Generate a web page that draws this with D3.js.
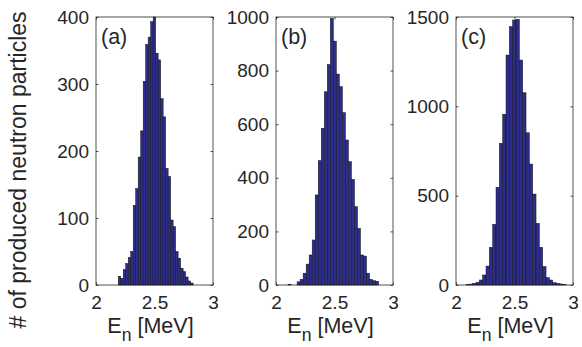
<!DOCTYPE html>
<html><head><meta charset="utf-8">
<script src="https://cdn.jsdelivr.net/npm/d3@7"></script>
<style>
body{margin:0;background:#fff}
text{font-family:"Liberation Sans",Arial,Helvetica,sans-serif;fill:#262626}
</style>
</head><body>
<svg id="chart" width="582" height="347"></svg>
<script>
// ---- data ----
const panelLabels = ["(a)", "(b)", "(c)"];
const binStart = [2.19, 2.103, 2.0855];
const binWidth = [0.02133, 0.0258, 0.0285];
const countsA = [13,10,23,32,41,50,119,144,191,230,304,359,370,393,400,346,336,278,251,174,162,97,87,50,40,25,20,12,6,3];
const countsB = [3,0,0,12,21,44,78,112,168,336,464,585,721,823,995,910,787,740,643,541,460,394,292,211,112,108,44,21,16,14];
const countsC = [3,5,9,15,28,56,106,211,339,547,793,955,1287,1446,1483,1487,1259,1076,852,677,509,345,211,103,41,28,13,9,6,3];
const yMax = [400, 1000, 1500];
const yTicksA = [0,100,200,300,400];
const yTicksB = [0,200,400,600,800,1000];
const yTicksC = [0,500,1000,1500];
const xTicks = [2, 2.5, 3];
const xTickLabels = ["2", "2.5", "3"];
const yLabel = "# of produced neutron particles";

const counts = [countsA, countsB, countsC];
const yTicks = [yTicksA, yTicksB, yTicksC];

// ---- layout ----
const svg = d3.select("#chart");
const lefts = [96, 276, 456];
const pw = 117, plotTop = 17, plotBottom = 285;
const axisColor = "#262626";
const fs = 19, fl = 21.5;
const fam = '"Liberation Sans",Arial,Helvetica,sans-serif';

for (let p = 0; p < 3; p++) {
  const g = svg.append("g").attr("transform", `translate(${lefts[p]},0)`);
  const x = d3.scaleLinear().domain([2, 3]).range([0, pw]);
  const y = d3.scaleLinear().domain([0, yMax[p]]).range([plotBottom, plotTop]);

  // bars
  g.append("g").selectAll("rect").data(counts[p]).join("rect")
    .attr("x", (d, i) => x(binStart[p] + i * binWidth[p]))
    .attr("width", (d, i) => x(binStart[p] + (i + 1) * binWidth[p]) - x(binStart[p] + i * binWidth[p]))
    .attr("y", d => y(d))
    .attr("height", d => y(0) - y(d))
    .attr("fill", "#2d2d8c")
    .attr("stroke", "#111")
    .attr("stroke-width", 0.5);

  // box
  g.append("rect").attr("x", 0).attr("y", plotTop).attr("width", pw).attr("height", plotBottom - plotTop)
    .attr("fill", "none").attr("stroke", axisColor).attr("stroke-width", 0.8);

  // axes
  const tl = 2.5;
  const ax = g.append("g").attr("transform", `translate(0,${plotBottom})`)
    .call(d3.axisBottom(x).tickValues(xTicks).tickFormat((d, i) => xTickLabels[i]).tickSizeInner(-tl).tickSizeOuter(0).tickPadding(11));
  const axTop = g.append("g").attr("transform", `translate(0,${plotTop})`)
    .call(d3.axisTop(x).tickValues(xTicks).tickFormat("").tickSizeInner(-tl).tickSizeOuter(0));
  const ay = g.append("g")
    .call(d3.axisLeft(y).tickValues(yTicks[p]).tickFormat(d3.format("d")).tickSizeInner(-tl).tickSizeOuter(0).tickPadding(7));
  const ayR = g.append("g").attr("transform", `translate(${pw},0)`)
    .call(d3.axisRight(y).tickValues(yTicks[p]).tickFormat("").tickSizeInner(-tl).tickSizeOuter(0));
  [ax, axTop, ay, ayR].forEach(a => {
    a.select(".domain").remove();
    a.selectAll("line").attr("stroke", axisColor).attr("stroke-width", 0.8);
    a.selectAll("text").attr("font-size", fs).attr("fill", axisColor).style("font-family", fam);
  });
  ax.selectAll("text").attr("dy", "0.71em");

  // panel label
  g.append("text").attr("x", 5).attr("y", 44).attr("font-size", fl).text(panelLabels[p]);

  // x label
  const xl = g.append("text").attr("x", pw / 2 - 4).attr("y", 333).attr("text-anchor", "middle").attr("font-size", fl);
  xl.append("tspan").text("E");
  xl.append("tspan").attr("font-size", fl * 0.82).attr("dy", 8).text("n");
  xl.append("tspan").attr("dy", -8).text(" [MeV]");
}

// y label
svg.append("text")
  .attr("transform", "translate(26,170) rotate(-90)")
  .attr("text-anchor", "middle").attr("font-size", 23)
  .text(yLabel);
</script>
</body></html>
